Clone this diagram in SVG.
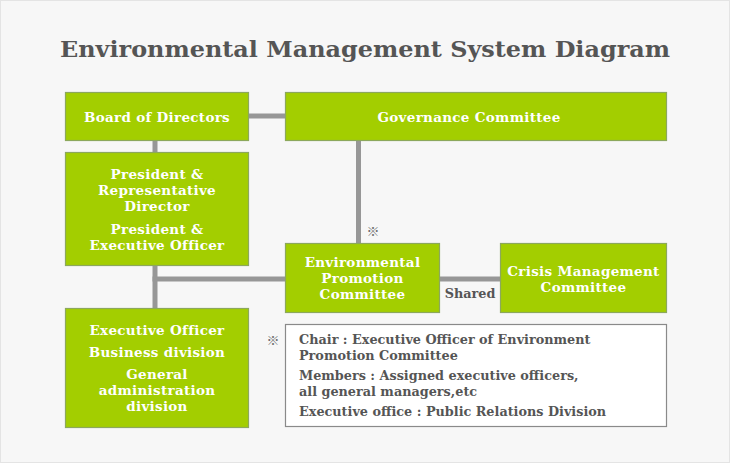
<svg xmlns="http://www.w3.org/2000/svg" width="730" height="463" viewBox="0 0 730 463">
<style>
.bg{fill:#f7f7f7;stroke:#e4e4e4;stroke-width:1}
.box{fill:#a3ce00;stroke:#8ca85c;stroke-width:1.2}
.note{fill:#ffffff;stroke:#8a8a8a;stroke-width:1.2}
.ln{stroke:#979797;stroke-width:5;fill:none}
.t{font-family:"DejaVu Serif","Liberation Serif",serif;font-weight:bold;font-size:13.5px;fill:#ffffff;text-anchor:middle;letter-spacing:0.3px}
.g{font-family:"DejaVu Serif","Liberation Serif",serif;font-weight:bold;font-size:12.8px;fill:#555555}
.title{font-family:"DejaVu Serif","Liberation Serif",serif;font-weight:bold;font-size:23px;fill:#555555;text-anchor:middle}
.mark{font-family:"Noto Sans CJK JP","DejaVu Sans",sans-serif;font-size:13px;fill:#707070;text-anchor:middle}
</style>
<rect class="bg" x="0.5" y="0.5" width="729" height="462"/>
<text class="title" x="365" y="57" textLength="610" lengthAdjust="spacingAndGlyphs">Environmental Management System Diagram</text>
<g id="connectors">
<line class="ln" x1="249" y1="116" x2="285" y2="116"/>
<line class="ln" x1="155" y1="140" x2="155" y2="152"/>
<line class="ln" x1="155" y1="266" x2="155" y2="308"/>
<line class="ln" x1="152.5" y1="279" x2="285" y2="279"/>
<line class="ln" x1="358.5" y1="140" x2="358.5" y2="243"/>
<line class="ln" x1="440" y1="279" x2="500" y2="279"/>
<text class="g" x="470" y="298" text-anchor="middle">Shared</text>
<text class="mark" x="373" y="236">※</text>
</g>
<g id="board">
<rect class="box" x="65.5" y="92.5" width="183" height="48"/>
<text class="t" x="157" y="122">Board of Directors</text>
</g>
<g id="governance">
<rect class="box" x="285.5" y="92.5" width="381" height="48"/>
<text class="t" x="469" y="122">Governance Committee</text>
</g>
<g id="president">
<rect class="box" x="65.5" y="152.5" width="183" height="113"/>
<text class="t" x="157" y="179">President &amp;</text>
<text class="t" x="157" y="195">Representative</text>
<text class="t" x="157" y="211">Director</text>
<text class="t" x="157" y="234">President &amp;</text>
<text class="t" x="157" y="250">Executive Officer</text>
</g>
<g id="env">
<rect class="box" x="285.5" y="243.5" width="154" height="69"/>
<text class="t" x="362.5" y="267">Environmental</text>
<text class="t" x="362.5" y="283">Promotion</text>
<text class="t" x="362.5" y="299">Committee</text>
</g>
<g id="crisis">
<rect class="box" x="500.5" y="243.5" width="166" height="69"/>
<text class="t" x="583.5" y="276">Crisis Management</text>
<text class="t" x="583.5" y="292">Committee</text>
</g>
<g id="exec">
<rect class="box" x="65.5" y="308.5" width="183" height="119"/>
<text class="t" x="157" y="335">Executive Officer</text>
<text class="t" x="157" y="357">Business division</text>
<text class="t" x="157" y="379">General</text>
<text class="t" x="157" y="395">administration</text>
<text class="t" x="157" y="411">division</text>
</g>
<g id="note">
<text class="mark" x="273" y="345">※</text>
<rect class="note" x="285.5" y="324.5" width="381" height="102"/>
<text class="g" x="299" y="344">Chair : Executive Officer of Environment</text>
<text class="g" x="299" y="360">Promotion Committee</text>
<text class="g" x="299" y="380">Members : Assigned executive officers,</text>
<text class="g" x="299" y="396">all general managers,etc</text>
<text class="g" x="299" y="416">Executive office : Public Relations Division</text>
</g>
</svg>
